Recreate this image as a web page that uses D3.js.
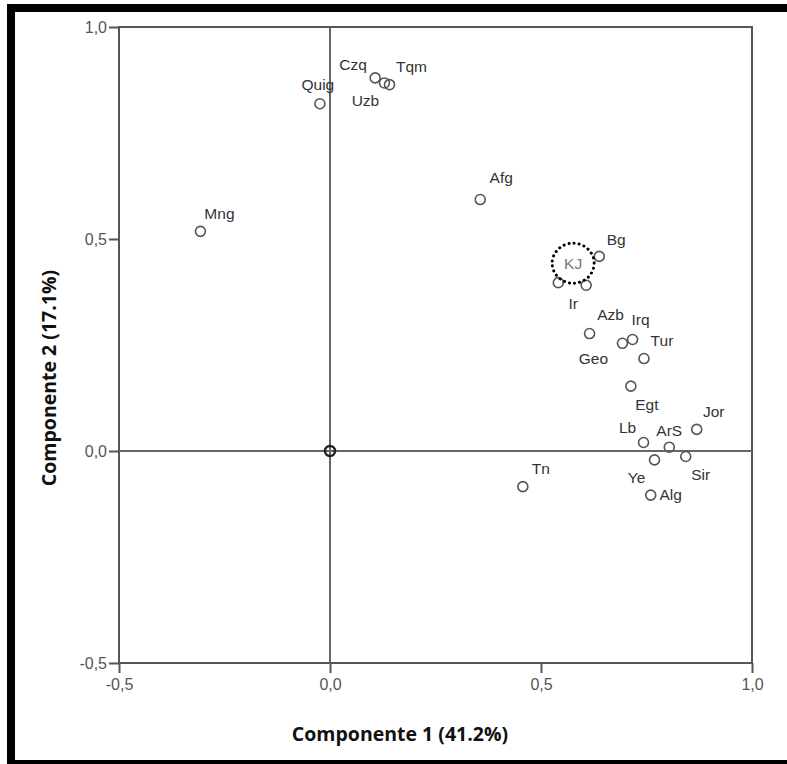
<!DOCTYPE html>
<html lang="es">

<head>
    <meta charset="UTF-8">
    <title>Componentes</title>
    <script src="https://d3js.org/d3.v7.min.js"></script>
    <style>
        body { margin: 0; background: #fff; }
        text { font-family: "Liberation Sans", Arial, sans-serif; }
    </style>
</head>

<body>
    <script>
        // country codes and component scores
        var names = ["Quig", "Czq", "Uzb", "Tqm", "Mng", "Afg", "Bg", "Ir", "KJ", "Azb", "Geo", "Irq", "Tur",
            "Egt", "Jor", "Lb", "ArS", "Sir", "Ye", "Alg", "Tn"];
        var comp1 = [-0.024, 0.107, 0.129, 0.141, -0.307, 0.356, 0.638, 0.541, 0.607, 0.615, 0.693, 0.717, 0.744,
            0.713, 0.869, 0.743, 0.804, 0.843, 0.769, 0.760, 0.457];
        var comp2 = [0.819, 0.880, 0.868, 0.864, 0.518, 0.593, 0.459, 0.397, 0.391, 0.277, 0.254, 0.263, 0.218,
            0.153, 0.051, 0.020, 0.009, -0.013, -0.021, -0.104, -0.084];
        var ticks = [-0.5, 0.0, 0.5, 1.0];

        // label placement relative to each point (pixels)
        var labelOffset = {
            Quig: [-2, -19], Czq: [-22, -13], Uzb: [-19, 18], Tqm: [22, -18], Mng: [19, -18],
            Afg: [21, -22], Bg: [17, -17], Ir: [15, 21], KJ: [-13, -22], Azb: [21, -19],
            Geo: [-29, 15], Irq: [8, -20], Tur: [18, -18], Egt: [16, 18], Jor: [17, -18],
            Lb: [-16, -15], ArS: [0, -17], Sir: [15, 18], Ye: [-18, 18], Alg: [20, -1], Tn: [18, -18]
        };

        var width = 787, height = 764;
        var svg = d3.select("body").append("svg")
            .attr("width", width)
            .attr("height", height);

        // black picture frame
        svg.append("rect").attr("x", 7).attr("y", 4).attr("width", 780).attr("height", 8).attr("fill", "#000");
        svg.append("rect").attr("x", 7).attr("y", 4).attr("width", 8).attr("height", 760).attr("fill", "#000");
        svg.append("rect").attr("x", 7).attr("y", 760).attr("width", 780).attr("height", 4).attr("fill", "#000");

        var x = d3.scaleLinear().domain([-0.5, 1.0]).range([119, 752]);
        var y = d3.scaleLinear().domain([-0.5, 1.0]).range([663, 27]);
        var fmt = function (d) { return d3.format(".1f")(d).replace(".", ",").replace("\u2212", "-"); };

        var xAxis = svg.append("g")
            .attr("transform", "translate(0," + y(-0.5) + ")")
            .call(d3.axisBottom(x).tickValues(ticks).tickFormat(fmt).tickSize(10).tickSizeOuter(0).tickPadding(6));
        var yAxis = svg.append("g")
            .attr("transform", "translate(" + x(-0.5) + ",0)")
            .call(d3.axisLeft(y).tickValues(ticks).tickFormat(fmt).tickSize(10).tickSizeOuter(0).tickPadding(2));
        [xAxis, yAxis].forEach(function (a) {
            a.select(".domain").remove();
            a.selectAll("line").attr("stroke", "#555").attr("stroke-width", 2);
            a.selectAll("text").attr("fill", "#555").style("font-size", "16px");
        });

        // plot frame
        svg.append("rect")
            .attr("x", x(-0.5)).attr("y", y(1.0))
            .attr("width", x(1.0) - x(-0.5)).attr("height", y(-0.5) - y(1.0))
            .attr("fill", "none").attr("stroke", "#555").attr("stroke-width", 2);

        // reference lines through origin
        svg.append("line")
            .attr("x1", x(-0.5)).attr("x2", x(1.0)).attr("y1", y(0)).attr("y2", y(0))
            .attr("stroke", "#666").attr("stroke-width", 2);
        svg.append("line")
            .attr("x1", x(0)).attr("x2", x(0)).attr("y1", y(1.0)).attr("y2", y(-0.5))
            .attr("stroke", "#666").attr("stroke-width", 2);

        svg.append("circle")
            .attr("cx", x(0)).attr("cy", y(0)).attr("r", 5)
            .attr("fill", "none").attr("stroke", "#222").attr("stroke-width", 2.5);

        var pts = names.map(function (n, i) { return { name: n, c1: comp1[i], c2: comp2[i] }; });

        var node = svg.selectAll(".node")
            .data(pts)
            .enter()
            .append("g")
            .attr("class", "node")
            .attr("transform", function (d) { return "translate(" + x(d.c1) + "," + y(d.c2) + ")"; });

        node.append("circle")
            .attr("r", 5)
            .attr("fill", "none")
            .attr("stroke", "#555")
            .attr("stroke-width", 1.6);

        node.append("text")
            .attr("x", function (d) { return labelOffset[d.name][0]; })
            .attr("y", function (d) { return labelOffset[d.name][1]; })
            .attr("text-anchor", "middle")
            .attr("dominant-baseline", "central")
            .attr("fill", function (d) { return d.name === "KJ" ? "#777" : "#333"; })
            .style("font-size", "15.5px")
            .text(function (d) { return d.name; });

        // dotted ring round the KJ label
        var kj = pts[names.indexOf("KJ")];
        svg.append("ellipse")
            .attr("cx", x(kj.c1) + labelOffset.KJ[0])
            .attr("cy", y(kj.c2) + labelOffset.KJ[1])
            .attr("rx", 21).attr("ry", 20)
            .attr("fill", "none")
            .attr("stroke", "#000")
            .attr("stroke-width", 3)
            .attr("stroke-linecap", "round")
            .attr("stroke-dasharray", "0.1,5");

        svg.append("text")
            .attr("x", 400).attr("y", 733)
            .attr("text-anchor", "middle").attr("dominant-baseline", "central")
            .style("font-family", "'Open Sans', sans-serif").style("font-weight", "bold").style("font-size", "19.5px")
            .attr("fill", "#111")
            .text("Componente 1 (41.2%)");

        svg.append("text")
            .attr("transform", "translate(48,378) rotate(-90)")
            .attr("text-anchor", "middle").attr("dominant-baseline", "central")
            .style("font-family", "'Open Sans', sans-serif").style("font-weight", "bold").style("font-size", "19.5px")
            .attr("fill", "#111")
            .text("Componente 2 (17.1%)");
    </script>
</body>

</html>
